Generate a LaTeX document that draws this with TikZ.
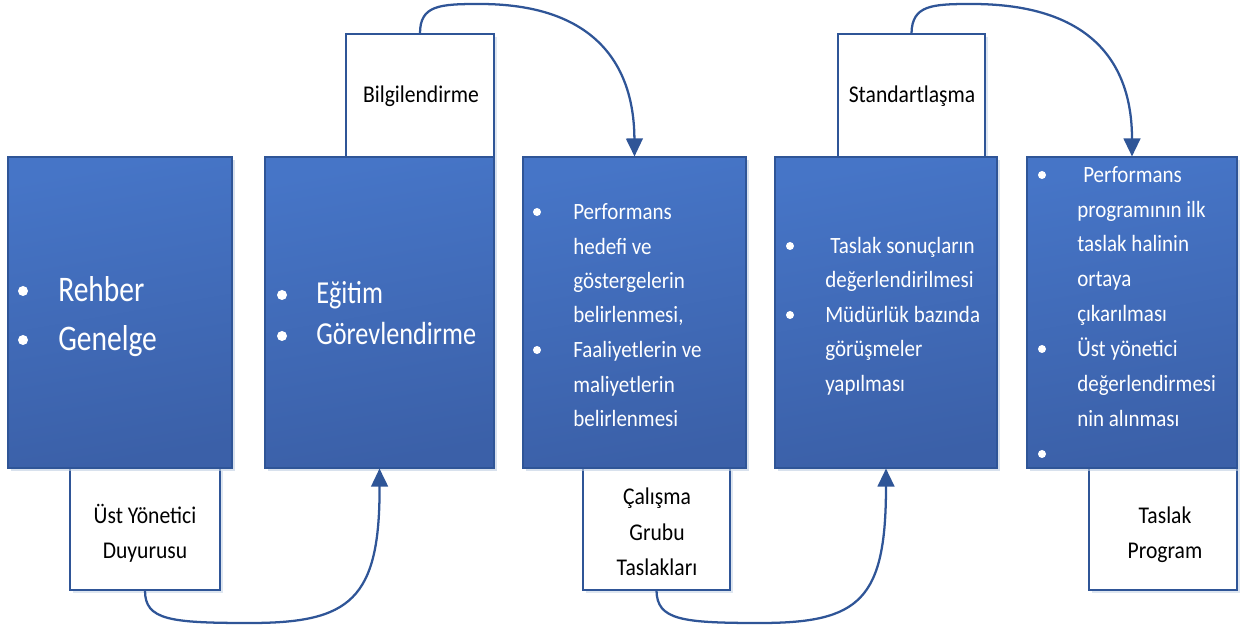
\documentclass[tikz,border=0pt]{standalone}
\usepackage{fontspec}
\setmainfont[FakeStretch=0.9]{Carlito}
\newfontfamily\bigf[FakeStretch=0.82]{Carlito}
\usetikzlibrary{arrows.meta,shadows}
\definecolor{btop}{RGB}{70,117,199}
\definecolor{bbot}{RGB}{59,96,168}
\definecolor{bline}{RGB}{47,85,151}
\definecolor{shd}{RGB}{190,205,225}
\tikzset{
  bluebox/.style={draw=bline, line width=0.8pt, top color=btop, bottom color=bbot, shading angle=10,
    inner sep=0pt, drop shadow={shadow xshift=2pt, shadow yshift=-2pt, fill=shd, opacity=0.6}},
  whitebox/.style={draw=bline, line width=1pt, fill=white, inner sep=0pt,
    drop shadow={shadow xshift=2pt, shadow yshift=-2pt, fill=shd, opacity=0.5}},
  wbig/.style={anchor=base west, inner sep=0pt, text=white, font=\bigf\fontsize{27}{30}\selectfont},
  wmid/.style={anchor=base west, inner sep=0pt, text=white, font=\bigf\fontsize{24}{28}\selectfont},
  wsmall/.style={anchor=base west, inner sep=0pt, text=white, font=\fontsize{17.5}{20}\selectfont},
  btxt/.style={anchor=base, inner sep=0pt, text=black, font=\fontsize{18}{21}\selectfont},
  bulbig/.style={circle, fill=white, inner sep=0pt, minimum size=7.5pt},
  bulsmall/.style={circle, fill=white, inner sep=0pt, minimum size=6pt},
  flow/.style={draw=bline, line width=1.7pt, -{Triangle[length=13.5pt, width=12.5pt]}}
}
\begin{document}
\begin{tikzpicture}[x=0.75pt, y=-0.75pt]
\useasboundingbox (0,0) rectangle (1242,630);

% white boxes
\node[whitebox, minimum width=150*0.75pt, minimum height=122*0.75pt] (w1) at (145,529) {};
\node[whitebox, minimum width=148*0.75pt, minimum height=123*0.75pt] (w2) at (420,95.5) {};
\node[whitebox, minimum width=147*0.75pt, minimum height=122*0.75pt] (w3) at (656.5,529) {};
\node[whitebox, minimum width=147*0.75pt, minimum height=123*0.75pt] (w4) at (911.5,95.5) {};
\node[whitebox, minimum width=148*0.75pt, minimum height=122*0.75pt] (w5) at (1163,529) {};

% blue boxes
\node[bluebox, minimum width=224*0.75pt, minimum height=311*0.75pt] (b1) at (120,312.5) {};
\node[bluebox, minimum width=229*0.75pt, minimum height=311*0.75pt] (b2) at (379.5,312.5) {};
\node[bluebox, minimum width=223*0.75pt, minimum height=311*0.75pt] (b3) at (634.5,312.5) {};
\node[bluebox, minimum width=222*0.75pt, minimum height=311*0.75pt] (b4) at (886,312.5) {};
\node[bluebox, minimum width=210*0.75pt, minimum height=311*0.75pt] (b5) at (1132,312.5) {};

% box 1 text
\node[bulbig] (p1a) at (23,291) {};
\node[wbig] (t1a) at (58,302) {Rehber};
\node[bulbig] (p1b) at (23,340) {};
\node[wbig] (t1b) at (58,351) {Genelge};

% box 2 text
\node[bulbig] (p2a) at (282,295) {};
\node[wmid] (t2a) at (316,304) {Eğitim};
\node[bulbig] (p2b) at (282,336) {};
\node[wmid] (t2b) at (316,345) {Görevlendirme};

% box 3 text
\node[bulsmall] (p3a) at (537,212) {};
\node[wsmall] (t3a) at (573,220) {Performans};
\node[wsmall] (t3b) at (573,255) {hedefi ve};
\node[wsmall] (t3c) at (573,288.5) {göstergelerin};
\node[wsmall] (t3d) at (573,323) {belirlenmesi,};
\node[bulsmall] (p3e) at (537,350) {};
\node[wsmall] (t3e) at (573,358) {Faaliyetlerin ve};
\node[wsmall] (t3f) at (573,393) {maliyetlerin};
\node[wsmall] (t3g) at (573,427) {belirlenmesi};

% box 4 text
\node[bulsmall] (p4a) at (790,246) {};
\node[wsmall] (t4a) at (830,254) {Taslak sonuçların};
\node[wsmall] (t4b) at (825,288) {değerlendirilmesi};
\node[bulsmall] (p4c) at (790,315) {};
\node[wsmall] (t4c) at (825,323) {Müdürlük bazında};
\node[wsmall] (t4d) at (825,357) {görüşmeler};
\node[wsmall] (t4e) at (825,392) {yapılması};

% box 5 text
\node[bulsmall] (p5a) at (1042,175) {};
\node[wsmall] (t5a) at (1083,183) {Performans};
\node[wsmall] (t5b) at (1077,218) {programının ilk};
\node[wsmall] (t5c) at (1077,252) {taslak halinin};
\node[wsmall] (t5d) at (1077,287) {ortaya};
\node[wsmall] (t5e) at (1077,322) {çıkarılması};
\node[bulsmall] (p5f) at (1042,349) {};
\node[wsmall] (t5f) at (1077,357) {Üst yönetici};
\node[wsmall] (t5g) at (1077,392) {değerlendirmesi};
\node[wsmall] (t5h) at (1077,427) {nin alınması};
\node[bulsmall] (p5i) at (1042,454) {};

% white box texts
\node[btxt] (l1a) at (145,523) {Üst Yönetici};
\node[btxt] (l1b) at (145,558) {Duyurusu};
\node[btxt] (l2) at (421,103) {Bilgilendirme};
\node[btxt] (l3a) at (657,505) {Çalışma};
\node[btxt] (l3b) at (657,540) {Grubu};
\node[btxt] (l3c) at (657,575) {Taslakları};
\node[btxt] (l4) at (912,103) {Standartlaşma};
\node[btxt] (l5a) at (1165,523) {Taslak};
\node[btxt] (l5b) at (1165,558) {Program};

% connectors
\draw[flow] (w1.south) .. controls (145,620) and (170,623) .. (250,623)
  .. controls (350,623) and (380,600) .. (b2.south);
\draw[flow] (w2.north) .. controls (420,5) and (440,4) .. (480,4)
  .. controls (590,4) and (634,60) .. (b3.north);
\draw[flow] (w3.south) .. controls (657,620) and (682,623) .. (760,623)
  .. controls (860,623) and (886,600) .. (b4.south);
\draw[flow] (w4.north) .. controls (912,5) and (932,4) .. (972,4)
  .. controls (1088,4) and (1132,60) .. (b5.north);
\end{tikzpicture}
\end{document}
